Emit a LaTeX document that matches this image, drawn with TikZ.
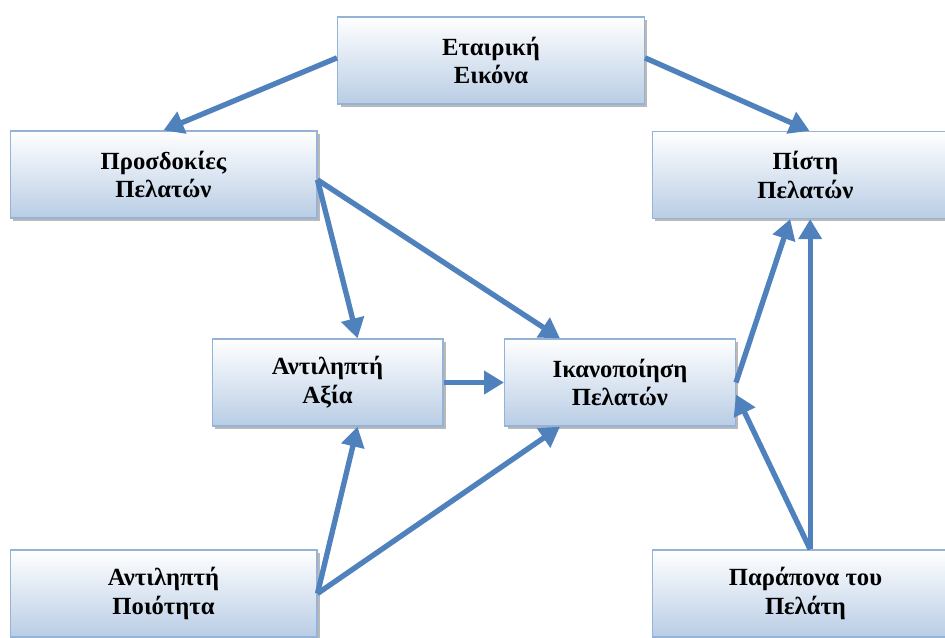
\documentclass[tikz,border=0pt]{standalone}
\usepackage{fontspec}
\setmainfont{Liberation Serif}
\usetikzlibrary{arrows.meta,shadows}
\definecolor{linkblue}{HTML}{4F81BD}
\definecolor{boxblue}{HTML}{B9CDE5}
\definecolor{edgeblue}{HTML}{95B3D7}
\begin{document}
\begin{tikzpicture}[x=0.75pt,y=-0.75pt,
  box/.style={draw=edgeblue,line width=1pt,top color=white,bottom color=boxblue,
    minimum height=65.25pt,align=center,font=\bfseries\fontsize{18.5}{21.5}\selectfont,
    drop shadow={shadow xshift=2.2pt,shadow yshift=-2.2pt,fill=black!50,opacity=0.55}},
  wide/.style={box,minimum width=230pt},
  narrow/.style={box,minimum width=173pt},
  link/.style={draw=linkblue,line width=4pt,-{Triangle[length=15pt,width=17pt]}}]
\clip (0,0) rectangle (945,637);
\fill[white] (0,0) rectangle (945,637);
\node[wide] (corp_image) at (491,60.5) {Εταιρική\\Εικόνα};
\node[wide] (cust_expect) at (163.5,174.5) {Προσδοκίες\\Πελατών};
\node[wide] (cust_loyal) at (805.5,175) {Πίστη\\Πελατών};
\node[narrow] (perc_value) at (327.5,382.5) {Αντιληπτή\\Αξία};
\node[narrow] (cust_satisf) at (620,382.5) {Ικανοποίηση\\Πελατών};
\node[wide] (perc_quality) at (163.5,593.5) {Αντιληπτή\\Ποιότητα};
\node[wide] (cust_complaint) at (805.5,593.5) {Παράπονα του\\Πελάτη};

\draw[link] ([yshift=2pt]corp_image.west) -- (cust_expect.north);
\draw[link] ([yshift=2pt]corp_image.east) -- ([xshift=3pt]cust_loyal.north);
\draw[link] ([yshift=-4pt]cust_expect.east) -- ([xshift=22.5pt]perc_value.north);
\draw[link] ([yshift=-4pt]cust_expect.east) -- ([xshift=-45pt]cust_satisf.north);
\draw[link] (perc_value.east) -- (cust_satisf.west);
\draw[link] (cust_satisf.east) -- ([xshift=-11.5pt]cust_loyal.south);
\draw[link] ([xshift=3.5pt]cust_complaint.north) -- ([xshift=3.5pt]cust_loyal.south);
\draw[link] ([xshift=3.5pt]cust_complaint.north) -- ([yshift=-9pt]cust_satisf.east);
\draw[link] (perc_quality.east) -- ([xshift=22.5pt]perc_value.south);
\draw[link] (perc_quality.east) -- ([xshift=-45pt]cust_satisf.south);
\end{tikzpicture}
\end{document}
